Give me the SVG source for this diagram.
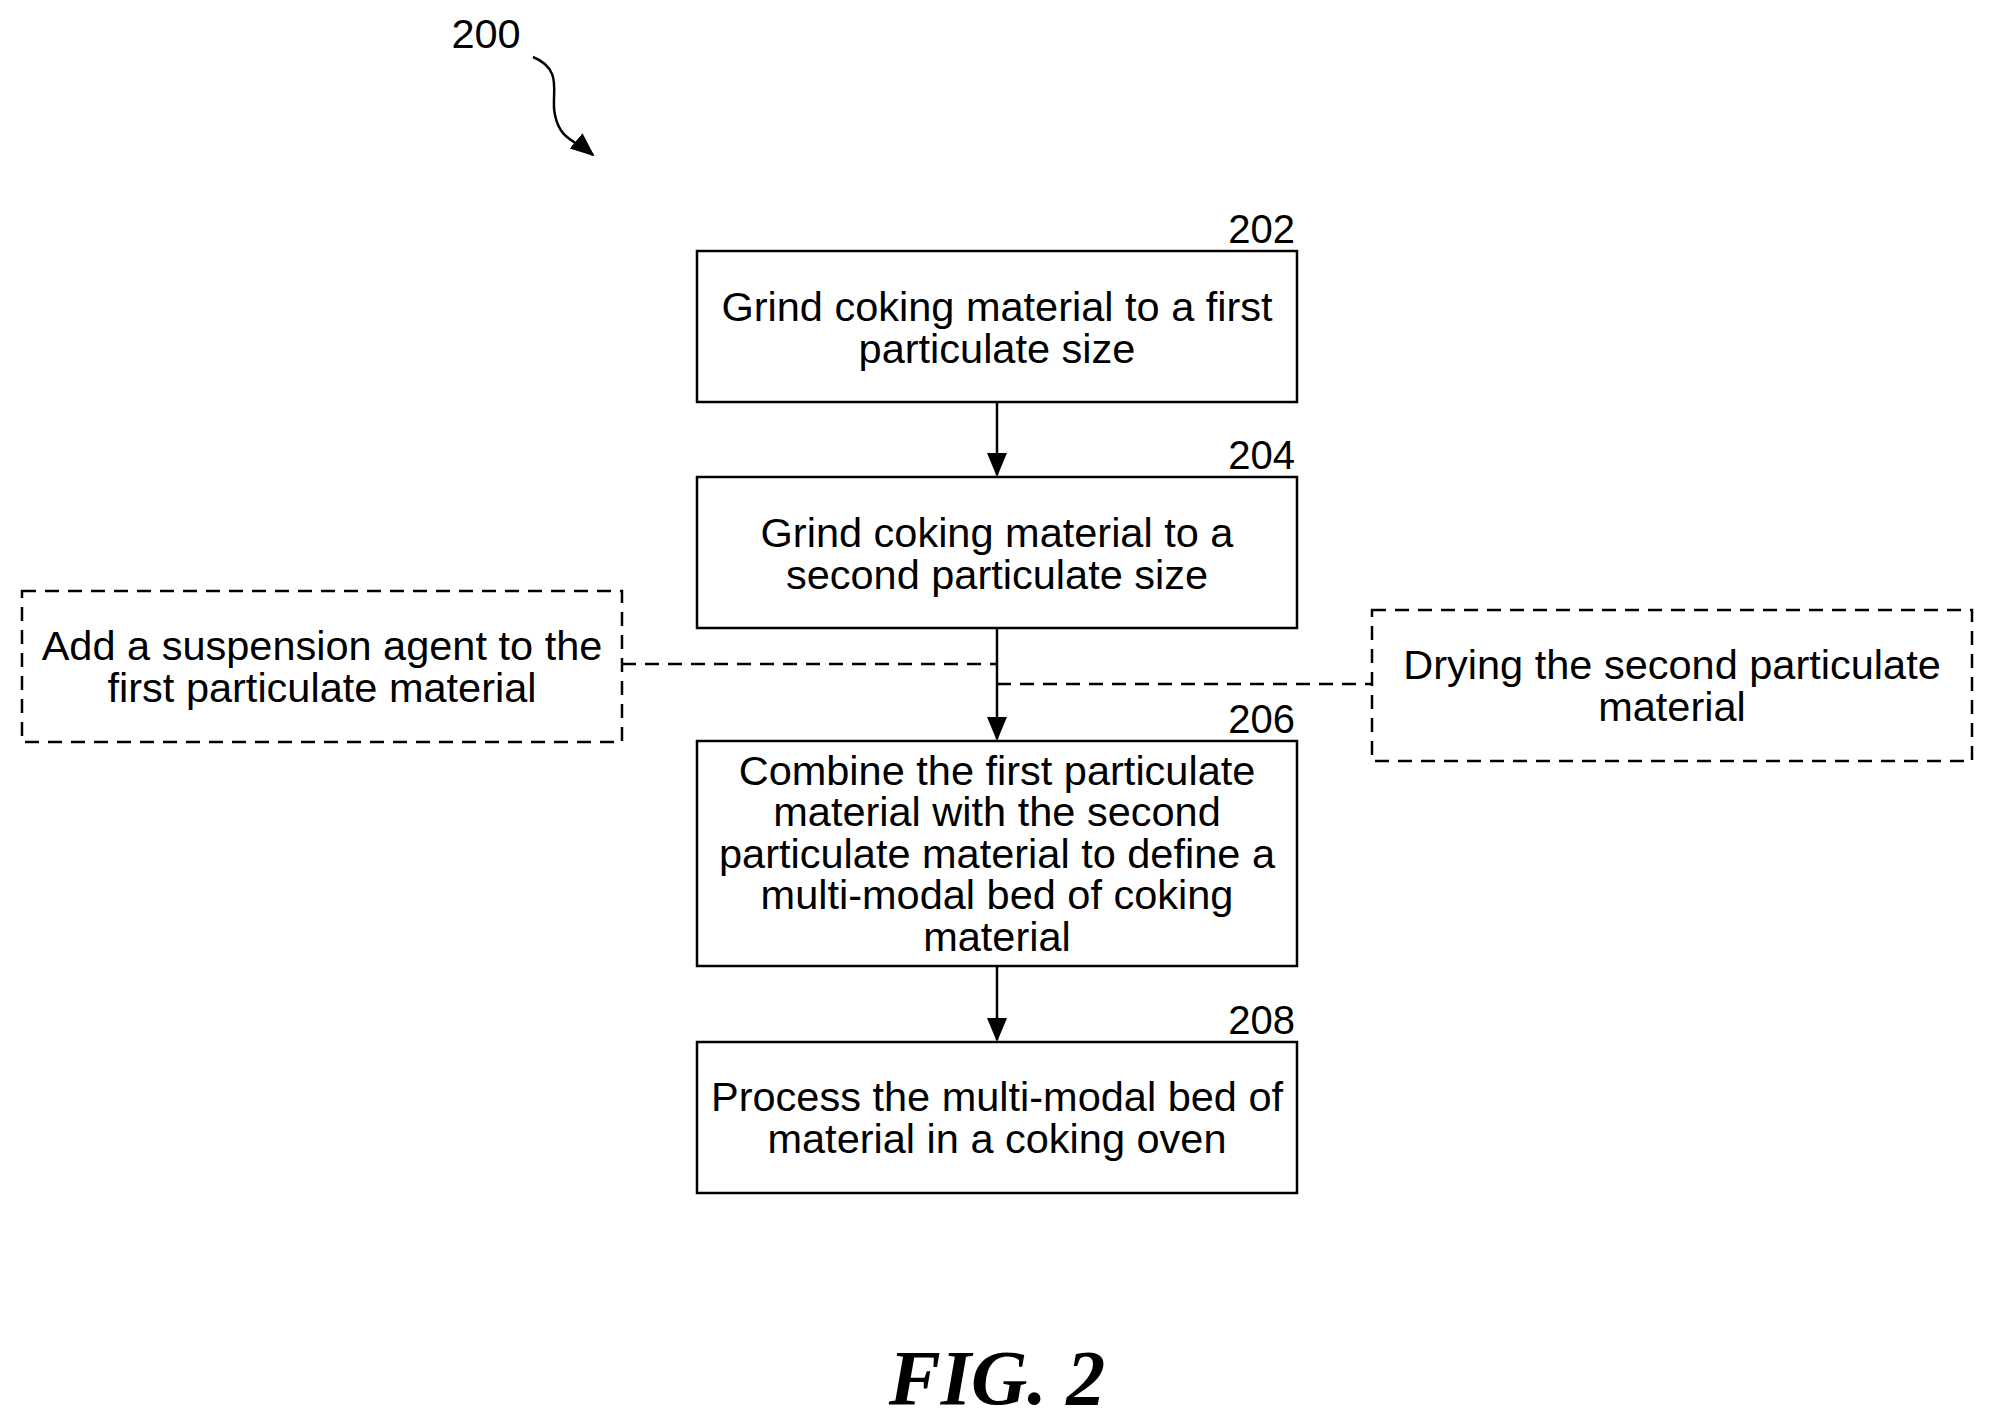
<svg xmlns="http://www.w3.org/2000/svg" width="1994" height="1424" viewBox="0 0 1994 1424">
<style>
.b{fill:#fff;stroke:#000;stroke-width:2.5}
.d{fill:#fff;stroke:#000;stroke-width:2.5;stroke-dasharray:14 9}
.t{font-family:"Liberation Sans",Arial,sans-serif;font-size:41.5px;text-anchor:middle}
.n{font-family:"Liberation Sans",Arial,sans-serif;font-size:40px;text-anchor:end}
.c{fill:none;stroke:#000;stroke-width:2.5}
.cd{fill:none;stroke:#000;stroke-width:2.5;stroke-dasharray:14 9}
</style>
<defs>
<marker id="ah" markerWidth="24" markerHeight="24" refX="22" refY="12" orient="auto" markerUnits="userSpaceOnUse" viewBox="0 0 24 24"><path d="M0,2 L24,12 L0,22 Z"/></marker></defs>
<rect width="1994" height="1424" fill="#fff"/>
<g id="label200"><text x="486" y="48" class="t">200</text>
<path class="c" d="M533,57 C565,70 550,95 555,115 C560,140 575,140 593,155" marker-end="url(#ah)"/></g>
<g id="connectors">
<line class="c" x1="997" y1="402" x2="997" y2="475" marker-end="url(#ah)"/>
<line class="c" x1="997" y1="628" x2="997" y2="739" marker-end="url(#ah)"/>
<line class="c" x1="997" y1="966" x2="997" y2="1040" marker-end="url(#ah)"/>
<line class="cd" x1="622" y1="664" x2="997" y2="664"/>
<line class="cd" x1="997" y1="684" x2="1372" y2="684"/>
</g>
<g id="n202"><rect class="b" x="697" y="251" width="600" height="151"/><text class="n" x="1295" y="243">202</text>
<text class="t" x="997" y="321">Grind coking material to a first</text><text class="t" x="997" y="363">particulate size</text></g>
<g id="n204"><rect class="b" x="697" y="477" width="600" height="151"/><text class="n" x="1295" y="469">204</text>
<text class="t" x="997" y="547">Grind coking material to a</text><text class="t" x="997" y="589">second particulate size</text></g>
<g id="n206"><rect class="b" x="697" y="741" width="600" height="225"/><text class="n" x="1295" y="733">206</text>
<text class="t" x="997" y="785">Combine the first particulate</text><text class="t" x="997" y="826">material with the second</text><text class="t" x="997" y="868">particulate material to define a</text><text class="t" x="997" y="909">multi-modal bed of coking</text><text class="t" x="997" y="951">material</text></g>
<g id="n208"><rect class="b" x="697" y="1042" width="600" height="151"/><text class="n" x="1295" y="1034">208</text>
<text class="t" x="997" y="1111">Process the multi-modal bed of</text><text class="t" x="997" y="1153">material in a coking oven</text></g>
<g id="left"><rect class="d" x="22" y="591" width="600" height="151"/>
<text class="t" x="322" y="660">Add a suspension agent to the</text><text class="t" x="322" y="702">first particulate material</text></g>
<g id="right"><rect class="d" x="1372" y="610" width="600" height="151"/>
<text class="t" x="1672" y="679">Drying the second particulate</text><text class="t" x="1672" y="721">material</text></g>
<text x="997" y="1404" text-anchor="middle" font-family="'Liberation Serif',serif" font-style="italic" font-weight="bold" font-size="78">FIG. 2</text>
</svg>
